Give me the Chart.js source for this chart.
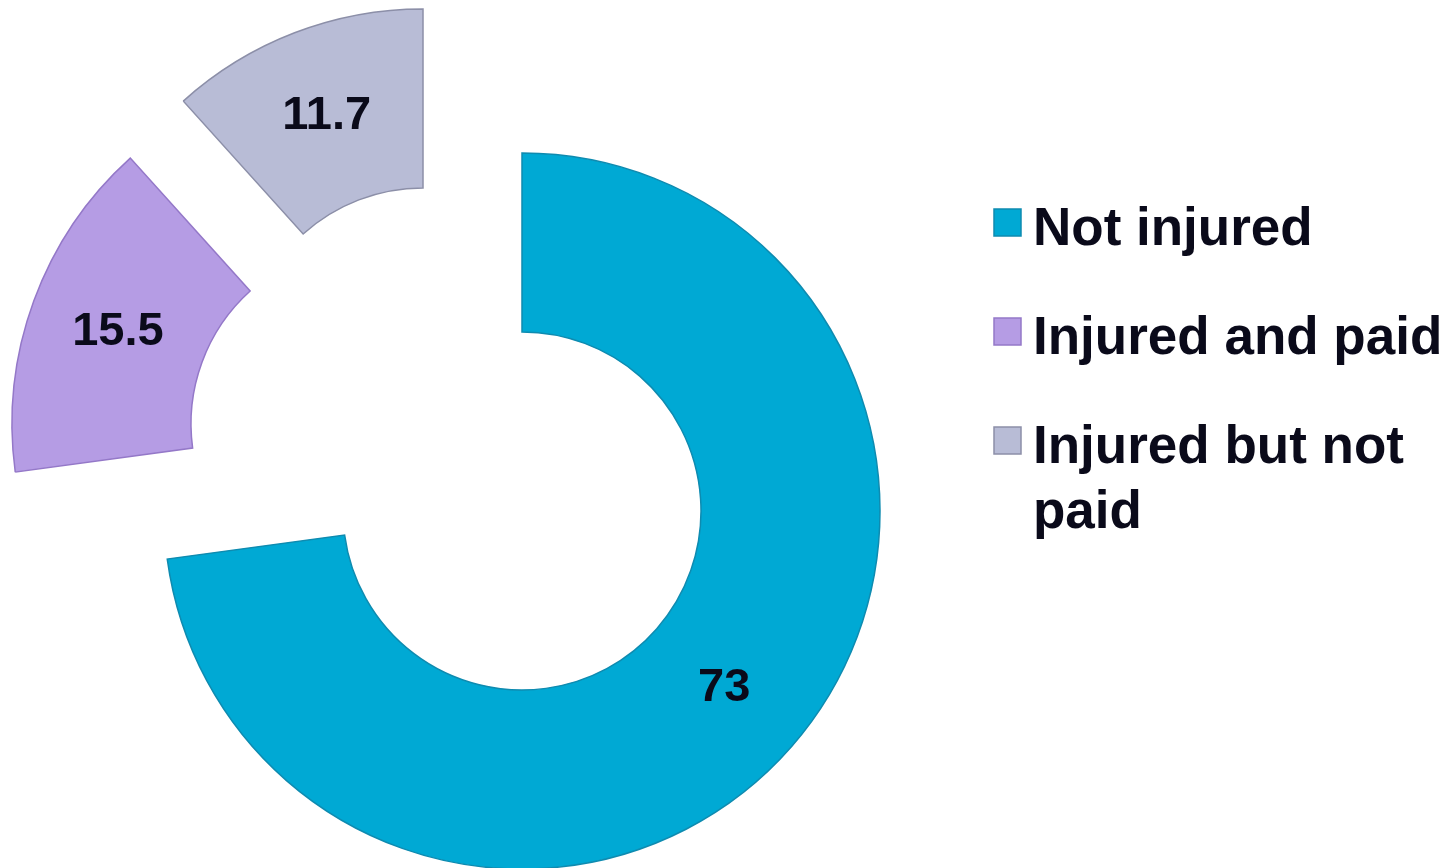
<!DOCTYPE html>
<html>
<head>
<meta charset="utf-8">
<script src="https://cdn.jsdelivr.net/npm/chart.js@4.4.1/dist/chart.umd.min.js"></script>
<style>
  html, body { margin: 0; padding: 0; background: #fff; }
  #wrap { position: relative; width: 1449px; height: 868px; }
</style>
</head>
<body>
<div id="wrap"><canvas id="injuryChart"></canvas></div>
<script>
// --- Data ---
const categories = ["Not injured", "Injured and paid", "Injured but not paid"];
const values = [73, 15.5, 11.7];
const valueLabels = ["73", "15.5", "11.7"];

// --- Styles ---
const fillColors = ["#00A9D4", "#B59CE4", "#B8BCD6"];
const borderColors = ["#0E8BB0", "#9478C8", "#8C8FA8"];
// exploded slices are pushed out (dx, dy) in px, like the original
const sliceShift = [[0, 0], [-152, -87], [-99, -144]];
const textColor = "#0A0A1A";

// draw arcs ourselves so each slice can be shifted and isn't clipped
const shiftSlices = {
  id: "shiftSlices",
  beforeDatasetsDraw(chart) {
    const ctx = chart.ctx;
    const meta = chart.getDatasetMeta(0);
    meta.data.forEach((arc, i) => {
      ctx.save();
      ctx.translate(sliceShift[i][0], sliceShift[i][1]);
      arc.draw(ctx, chart.chartArea);
      ctx.restore();
    });
    return false;
  },
  afterDraw(chart) {
    const ctx = chart.ctx;
    const meta = chart.getDatasetMeta(0);
    ctx.save();
    ctx.font = "bold 47px 'Liberation Sans', Arial, sans-serif";
    ctx.fillStyle = textColor;
    ctx.textAlign = "center";
    ctx.textBaseline = "middle";
    meta.data.forEach((arc, i) => {
      const p = arc.tooltipPosition();
      ctx.fillText(valueLabels[i], p.x + sliceShift[i][0], p.y + sliceShift[i][1]);
    });
    ctx.restore();
  }
};

// legend on the right, with wrapping like the original
const sideLegend = {
  id: "sideLegend",
  afterDraw(chart) {
    const ctx = chart.ctx;
    const boxX = 994, boxSize = 27, textX = 1033, maxW = 414;
    const baselines = [245, 354, 463];
    const lineH = 65;
    ctx.save();
    ctx.font = "bold 53px 'Liberation Sans', Arial, sans-serif";
    ctx.textBaseline = "alphabetic";
    ctx.textAlign = "left";
    categories.forEach((name, i) => {
      const base = baselines[i];
      ctx.fillStyle = fillColors[i];
      ctx.strokeStyle = borderColors[i];
      ctx.lineWidth = 1.5;
      ctx.fillRect(boxX, base - 36, boxSize, boxSize);
      ctx.strokeRect(boxX, base - 36, boxSize, boxSize);

      // simple word wrap
      const words = name.split(" ");
      const lines = [];
      let line = "";
      words.forEach(w => {
        const test = line ? line + " " + w : w;
        if (ctx.measureText(test).width > maxW && line) {
          lines.push(line);
          line = w;
        } else {
          line = test;
        }
      });
      lines.push(line);
      ctx.fillStyle = textColor;
      lines.forEach((l, j) => ctx.fillText(l, textX, base + j * lineH));
    });
    ctx.restore();
  }
};

const ctx = document.getElementById("injuryChart").getContext("2d");
new Chart(ctx, {
  type: "doughnut",
  data: {
    labels: categories,
    datasets: [{
      data: values,
      backgroundColor: fillColors,
      borderColor: borderColors,
      borderWidth: 1.5,
      borderJoinStyle: "miter"
    }]
  },
  options: {
    responsive: true,
    maintainAspectRatio: false,
    animation: false,
    events: [],
    cutout: "50%",
    radius: 358,
    layout: { padding: { left: 0, top: 154, right: 405, bottom: 0 } },
    plugins: {
      legend: { display: false },
      tooltip: { enabled: false }
    }
  },
  plugins: [shiftSlices, sideLegend]
});
</script>
</body>
</html>
